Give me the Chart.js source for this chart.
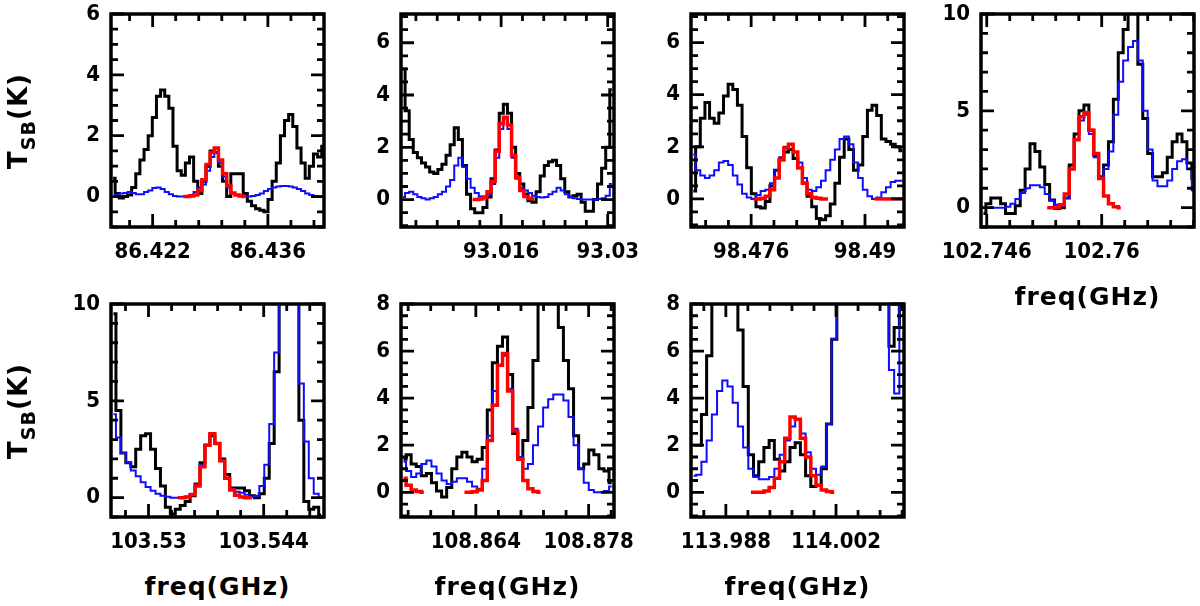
<!DOCTYPE html>
<html>
<head>
<meta charset="utf-8">
<script src="https://cdn.jsdelivr.net/npm/chart.js@4.4.1/dist/chart.umd.min.js"></script>
<style>
  body { margin: 0; background: #fff; }
  #fig { position: relative; width: 1200px; height: 606px; overflow: hidden; background: #fff;
         font-family: "DejaVu Sans", sans-serif; color: #000; }
  #fig canvas { position: absolute; }
  .xt { position: absolute; font-size: 25px; font-weight: bold; letter-spacing: 1px; line-height: 1;
        transform: translate(-50%, -50%); white-space: nowrap; }
  .yt { position: absolute; font-size: 26px; font-weight: bold; letter-spacing: 1px; line-height: 26px;
        transform: translate(-50%, -50%) rotate(-90deg); white-space: nowrap; }
  .yt sub { font-size: 19px; line-height: 0; vertical-align: -8px; }
</style>
</head>
<body>
<div id="fig"></div>
<script>
// ---- data, one block per panel (freq range, channel width, ticks, spectra) ----
// black = observed, blue = model, red = line fit ([first channel, values])

// 86.43 GHz
const p1Range = [86.41694, 86.44282];
const p1Chan = 0.000502;
const p1Ticks = [86.422, 86.436];
const p1TickText = ['86.422', '86.436'];
const p1YRange = [-1, 6];
const p1YTicks = [0, 2, 4, 6];
const p1Obs = [0.6, 0.1, -0.05, 0.0, 0.05, 0.3, 0.75, 1.2, 1.55, 2.0, 2.6, 3.3, 3.5, 3.3, 2.9, 1.65, 0.85, 0.7, 1.1, 1.3,
  0.5, 0.1, 0.5, 1.0, 1.5, 1.45, 1.0, 0.5, 0.0, 0.75, 0.75, 0.75, 0.1, -0.15, -0.3, -0.4, -0.45, -0.5, -0.1, 0.5,
  1.1, 2.0, 2.5, 2.7, 2.3, 1.6, 1.1, 0.6, 1.0, 1.4, 1.3, 1.65];
const p1Model = [0.0, 0.05, 0.1, 0.12, 0.15, 0.12, 0.08, 0.08, 0.15, 0.2, 0.28, 0.3, 0.25, 0.15, 0.08, 0.02, 0.0, 0.0, 0.02, 0.05,
  0.15, 0.3, 0.4, 0.85, 1.3, 1.45, 1.1, 0.65, 0.3, 0.12, 0.05, 0.02, 0.0, 0.0, 0.02, 0.05, 0.1, 0.18, 0.25, 0.3,
  0.33, 0.35, 0.35, 0.33, 0.3, 0.25, 0.18, 0.1, 0.05, 0.02, 0.0, 0.0];
const p1Fit = [[17, [0.0, 0.0, 0.02, 0.05, 0.2, 0.55, 1.05, 1.45, 1.6, 1.2, 0.75, 0.35, 0.12, 0.05, 0.02, 0.0]]];

// 93.02 GHz
const p2Range = [93.00284, 93.03083];
const p2Chan = 0.000538;
const p2Ticks = [93.016, 93.03];
const p2TickText = ['93.016', '93.03'];
const p2YRange = [-1.05, 7.1];
const p2YTicks = [0, 2, 4, 6];
const p2Obs = [5.0, 3.4, 2.3, 1.8, 1.6, 1.4, 1.25, 1.05, 1.0, 1.15, 1.35, 1.7, 2.1, 2.75, 2.3, 1.3, 0.2, -0.35, -0.5, -0.5,
  -0.3, 0.1, 0.8, 1.9, 3.3, 3.65, 3.3, 2.0, 1.0, 0.6, 0.2, -0.05, -0.1, 0.3, 0.9, 1.3, 1.45, 1.5, 1.3, 0.8,
  0.3, 0.1, 0.15, 0.2, -0.1, -0.45, -0.45, 0.0, 0.6, 1.2, 2.0, 4.2];
const p2Model = [0.1, 0.25, 0.3, 0.2, 0.1, 0.05, 0.0, 0.05, 0.1, 0.2, 0.3, 0.5, 0.75, 1.3, 1.6, 1.25, 0.8, 0.45, 0.25, 0.12,
  0.08, 0.2, 0.6, 1.6, 2.7, 3.1, 2.7, 1.6, 0.8, 0.45, 0.35, 0.25, 0.15, 0.1, 0.08, 0.1, 0.2, 0.3, 0.45, 0.35,
  0.2, 0.1, 0.05, 0.02, 0.0, 0.0, 0.0, 0.0, 0.02, 0.05, 0.15, 0.6];
const p2Fit = [[17, [0.0, 0.0, 0.02, 0.1, 0.3, 0.7, 1.85, 2.9, 3.15, 2.85, 1.7, 0.85, 0.35, 0.12, 0.05, 0.02]]];

// 98.48 GHz
const p3Range = [98.4686, 98.4948];
const p3Chan = 0.000571;
const p3Ticks = [98.476, 98.49];
const p3TickText = ['98.476', '98.49'];
const p3YRange = [-1.08, 7.1];
const p3YTicks = [0, 2, 4, 6];
const p3Obs = [0.3, 2.0, 3.1, 3.7, 3.1, 2.9, 3.3, 3.95, 4.4, 4.2, 3.6, 2.4, 1.2, 0.2, -0.3, -0.35, -0.1, 0.5, 1.1, 1.5,
  1.8, 1.9, 1.55, 1.2, 0.6, 0.1, -0.3, -0.75, -0.8, -0.65, -0.2, 0.6, 1.6, 2.3, 1.9, 1.1, 1.3, 2.4, 3.4, 3.6,
  3.2, 2.3, 2.2, 2.1, 2.0, 1.85];
const p3Model = [1.7, 1.1, 0.9, 0.8, 0.9, 1.1, 1.4, 1.45, 1.3, 0.9, 0.55, 0.2, 0.05, 0.0, 0.15, 0.3, 0.35, 0.6, 1.1, 1.6,
  2.0, 2.1, 1.8, 1.4, 0.8, 0.35, 0.3, 0.45, 0.7, 1.1, 1.5, 1.9, 2.3, 2.4, 2.1, 1.4, 0.8, 0.35, 0.1, 0.0,
  0.05, 0.25, 0.45, 0.65, 0.7, 0.7];
const p3Fit = [[13, [0.0, 0.0, 0.02, 0.1, 0.35, 0.8, 1.5, 1.95, 2.1, 1.8, 1.2, 0.6, 0.2, 0.05, 0.02, 0.0, 0.0]],
  [39, [0.0, 0.0, 0.0, 0.0, 0.0, 0.0, 0.0]]];

// 102.76 GHz
const p4Range = [102.7453, 102.77124];
const p4Chan = 0.000597;
const p4Ticks = [102.746, 102.76];
const p4TickText = ['102.746', '102.76'];
const p4YRange = [-1, 10];
const p4YTicks = [0, 5, 10];
const p4Obs = [-0.3, 0.2, 0.5, 0.5, 0.2, -0.3, -0.3, 0.1, 0.9, 2.0, 3.3, 2.9, 2.1, 1.2, 0.4, -0.05, 0.0, 0.5, 2.2, 3.8,
  5.0, 5.3, 4.0, 2.7, 1.6, 2.2, 3.4, 5.6, 8.0, 9.2, 11, 12, 7.4, 4.6, 2.8, 1.6, 1.6, 1.8, 2.6, 3.4,
  3.8, 3.4, 2.3, 1.5];
const p4Model = [0.0, 0.0, 0.0, 0.0, 0.0, 0.05, 0.2, 0.45, 0.75, 1.0, 1.15, 1.15, 1.05, 0.7, 0.35, 0.15, 0.1, 0.5, 2.0, 3.5,
  4.5, 4.8, 3.8, 2.6, 1.5, 2.0, 2.9, 4.8, 6.5, 7.6, 8.3, 8.6, 7.6, 5.0, 3.0, 1.4, 1.1, 1.1, 1.4, 2.0,
  2.4, 2.5, 2.0, 0.9];
const p4Fit = [[13, [0.0, 0.0, 0.02, 0.15, 0.7, 2.0, 3.5, 4.7, 4.9, 4.0, 2.8, 1.5, 0.6, 0.2, 0.05, 0.0]]];

// 103.54 GHz
const p5Range = [103.52544, 103.55133];
const p5Chan = 0.000601;
const p5Ticks = [103.53, 103.544];
const p5TickText = ['103.53', '103.544'];
const p5YRange = [-1, 10];
const p5YTicks = [0, 5, 10];
const p5Obs = [9.5, 4.5, 2.3, 1.8, 1.6, 2.5, 3.2, 3.3, 2.5, 1.5, 0.6, -0.5, -0.85, -0.6, -0.4, -0.2, 0.1, 0.7, 1.8, 2.7,
  3.2, 2.8, 2.0, 1.2, 0.5, 0.5, 0.5, 0.35, 0.1, 0.0, 0.2, 1.0, 2.8, 6.5, 11, 12, 11, 11, 4.0, -0.2,
  -0.6, -0.5, -0.9];
const p5Model = [4.3, 3.1, 2.3, 1.8, 1.4, 1.1, 0.8, 0.55, 0.35, 0.2, 0.1, 0.05, 0.0, 0.0, 0.0, 0.05, 0.2, 0.7, 1.7, 2.7,
  3.3, 2.8, 1.9, 1.0, 0.45, 0.3, 0.25, 0.15, 0.05, 0.1, 0.6, 1.7, 3.8, 7.5, 11, 12, 11, 11, 5.9, 2.9,
  1.0, 0.2, 0.0];
const p5Fit = [[13, [0.0, 0.0, 0.03, 0.15, 0.6, 1.6, 2.7, 3.3, 2.8, 1.9, 1.0, 0.4, 0.12, 0.03, 0.0, 0.0]]];

// 108.87 GHz
const p6Range = [108.85471, 108.88115];
const p6Chan = 0.00063;
const p6Ticks = [108.864, 108.878];
const p6TickText = ['108.864', '108.878'];
const p6YRange = [-1.05, 8];
const p6YTicks = [0, 2, 4, 6, 8];
const p6Obs = [1.4, 1.6, 1.2, 1.1, 0.7, 0.8, 0.4, 0.05, -0.2, 0.2, 1.0, 1.5, 1.7, 1.5, 1.3, 1.4, 1.9, 3.5, 5.5, 6.2,
  6.6, 5.0, 2.5, 1.4, 2.2, 3.6, 5.6, 9, 10, 10, 10, 7.0, 5.6, 4.4, 2.4, 1.0, 1.2, 1.8, 1.6, 1.0,
  0.9, 0.4];
const p6Model = [1.3, 0.9, 0.65, 0.8, 1.2, 1.35, 1.1, 0.8, 0.5, 0.35, 0.45, 0.6, 0.6, 0.45, 0.25, 0.15, 1.0, 2.4, 4.3, 5.4,
  5.8, 4.4, 2.7, 1.5, 1.0, 1.2, 2.0, 2.8, 3.6, 3.95, 4.15, 4.15, 3.9, 3.2, 2.0, 1.0, 0.4, 0.1, 0.0, 0.0,
  0.05, 0.25];
const p6Fit = [[0, [0.6, 0.3, 0.1, 0.03, 0.0]],
  [12, [0.0, 0.0, 0.02, 0.1, 0.5, 2.2, 3.7, 5.4, 5.9, 4.3, 2.6, 1.4, 0.5, 0.15, 0.03, 0.0]]];

// 114.00 GHz
const p7Range = [113.98357, 114.01064];
const p7Chan = 0.000662;
const p7Ticks = [113.988, 114.002];
const p7TickText = ['113.988', '114.002'];
const p7YRange = [-1.05, 8];
const p7YTicks = [0, 2, 4, 6, 8];
const p7Obs = [2.0, 2.0, 3.3, 5.8, 9, 10, 10, 10, 9, 6.9, 4.5, 1.6, 0.7, 1.3, 1.9, 2.2, 1.4, 0.9, 1.3, 1.9,
  2.1, 1.6, 0.7, 0.25, 0.3, 1.0, 2.9, 6.5, 9, 11, 12, 12, 12, 12, 11, 10, 9, 8.5, 6.2, 7.0,
  8.5];
const p7Model = [0.7, 0.75, 1.3, 2.2, 3.3, 4.3, 4.75, 4.5, 3.8, 2.8, 1.9, 1.0, 0.65, 0.55, 0.55, 0.65, 1.0, 1.6, 2.2, 2.8,
  3.1, 2.5, 1.7, 1.0, 0.75, 1.1, 2.9, 6.5, 9, 11, 12, 12, 12, 12, 11, 10, 9, 8.5, 5.2, 4.2,
  9];
const p7Fit = [[11, [0.0, 0.0, 0.0, 0.05, 0.2, 0.6, 1.3, 2.3, 3.2, 3.1, 2.3, 1.5, 0.7, 0.3, 0.1, 0.03, 0.0]]];

// ---- layout ----
const frames = [[111, 14], [401, 14], [691, 14], [981, 14], [111, 304], [401, 304], [691, 304]];
const FW = 213, FH = 213;
const ML = 80, MT = 16, MR = 45, MB = 50, YAXW = 70;
const xMinorStep = 0.0028;
const tickFont = { family: '"DejaVu Sans Condensed", "DejaVu Sans", sans-serif', size: 22, weight: 'bold' };

const panels = [
  { range: p1Range, chan: p1Chan, ticks: p1Ticks, tickText: p1TickText, yr: p1YRange, yt: p1YTicks, ym: 0.5, obs: p1Obs, model: p1Model, fit: p1Fit },
  { range: p2Range, chan: p2Chan, ticks: p2Ticks, tickText: p2TickText, yr: p2YRange, yt: p2YTicks, ym: 0.5, obs: p2Obs, model: p2Model, fit: p2Fit },
  { range: p3Range, chan: p3Chan, ticks: p3Ticks, tickText: p3TickText, yr: p3YRange, yt: p3YTicks, ym: 0.5, obs: p3Obs, model: p3Model, fit: p3Fit },
  { range: p4Range, chan: p4Chan, ticks: p4Ticks, tickText: p4TickText, yr: p4YRange, yt: p4YTicks, ym: 1, obs: p4Obs, model: p4Model, fit: p4Fit },
  { range: p5Range, chan: p5Chan, ticks: p5Ticks, tickText: p5TickText, yr: p5YRange, yt: p5YTicks, ym: 1, obs: p5Obs, model: p5Model, fit: p5Fit },
  { range: p6Range, chan: p6Chan, ticks: p6Ticks, tickText: p6TickText, yr: p6YRange, yt: p6YTicks, ym: 0.5, obs: p6Obs, model: p6Model, fit: p6Fit },
  { range: p7Range, chan: p7Chan, ticks: p7Ticks, tickText: p7TickText, yr: p7YRange, yt: p7YTicks, ym: 0.5, obs: p7Obs, model: p7Model, fit: p7Fit }
];

const fig = document.getElementById('fig');

function stepLine(data, color, width, order){
  return {
    data, borderColor: color, borderWidth: width, stepped: 'middle',
    pointRadius: 0, fill: false, order, borderJoinStyle: 'miter'
  };
}

// frame + inward ticks on all four sides (IDL style)
function framePlugin(xt, yt){
  return {
    id: 'frameTicks',
    afterDatasetsDraw(chart){
      const { ctx, chartArea: a, scales: { x, y } } = chart;
      ctx.save();
      ctx.strokeStyle = '#000';
      ctx.lineWidth = 2.8;
      ctx.beginPath();
      xt.forEach(([v, major]) => {
        const px = x.getPixelForValue(v), len = major ? 13 : 7;
        ctx.moveTo(px, a.bottom); ctx.lineTo(px, a.bottom - len);
        ctx.moveTo(px, a.top); ctx.lineTo(px, a.top + len);
      });
      yt.forEach(([v, major]) => {
        const py = y.getPixelForValue(v), len = major ? 13 : 7;
        ctx.moveTo(a.left, py); ctx.lineTo(a.left + len, py);
        ctx.moveTo(a.right, py); ctx.lineTo(a.right - len, py);
      });
      ctx.stroke();
      ctx.lineWidth = 3.5;
      ctx.strokeRect(a.left, a.top, a.right - a.left, a.bottom - a.top);
      ctx.restore();
    }
  };
}

function makePanel(p, [fx, fy]){
  const cv = document.createElement('canvas');
  const w = ML + FW + MR, h = MT + FH + MB;
  cv.width = w; cv.height = h;
  cv.style.width = w + 'px'; cv.style.height = h + 'px';
  cv.style.left = (fx - ML) + 'px'; cv.style.top = (fy - MT) + 'px';
  fig.appendChild(cv);

  // channel centre frequencies
  const xs = p.obs.map((_, i) => p.range[0] + (i + 0.5) * p.chan);
  const pts = (vals, start) => vals.map((v, k) => ({ x: xs[start + k], y: v }));

  const datasets = [
    stepLine(pts(p.obs, 0), '#000000', 3, 3),
    stepLine(pts(p.model, 0), '#0d0dff', 2, 2),
    ...p.fit.map(([s, vals]) => stepLine(pts(vals, s), '#ff0000', 3.5, 1))
  ];

  // tick positions for the frame
  const xt = [];
  for (let k = -12; k <= 16; k++){
    const v = p.ticks[0] + k * xMinorStep;
    if (v > p.range[0] + 1e-6 && v < p.range[1] - 1e-6)
      xt.push([v, p.ticks.some(t => Math.abs(t - v) < 1e-6)]);
  }
  const yt = [];
  for (let k = Math.ceil(p.yr[0] / p.ym); k * p.ym <= p.yr[1] + 1e-9; k++){
    const v = k * p.ym;
    yt.push([v, p.yt.some(t => Math.abs(t - v) < 1e-9)]);
  }

  new Chart(cv, {
    type: 'line',
    data: { datasets },
    options: {
      responsive: false,
      animation: false,
      events: [],
      layout: { padding: { left: ML - YAXW, top: MT, right: MR, bottom: 0 } },
      plugins: { legend: { display: false }, tooltip: { enabled: false } },
      scales: {
        x: {
          type: 'linear', min: p.range[0], max: p.range[1],
          grid: { display: false, drawTicks: false }, border: { display: false },
          ticks: { padding: 12, color: '#000', font: tickFont, maxRotation: 0, autoSkip: false,
                   callback: (v, i) => p.tickText[i] },
          afterBuildTicks: s => { s.ticks = p.ticks.map(v => ({ value: v })); },
          afterFit: s => { s.height = MB; s.paddingLeft = 0; s.paddingRight = 0; }
        },
        y: {
          type: 'linear', min: p.yr[0], max: p.yr[1],
          grid: { display: false, drawTicks: false }, border: { display: false },
          ticks: { padding: 11, color: '#000', font: tickFont, autoSkip: false,
                   callback: v => String(v) },
          afterBuildTicks: s => { s.ticks = p.yt.map(v => ({ value: v })); },
          afterFit: s => { s.width = YAXW; s.paddingTop = 0; s.paddingBottom = 0; }
        }
      }
    },
    plugins: [framePlugin(xt, yt)]
  });
}

panels.forEach((p, i) => makePanel(p, frames[i]));

// axis titles
[0, 4].forEach(i => {
  const d = document.createElement('div');
  d.className = 'yt';
  d.innerHTML = 'T<sub>SB</sub>(K)';
  d.style.left = '18px';
  d.style.top = (frames[i][1] + FH / 2) + 'px';
  fig.appendChild(d);
});
[3, 4, 5, 6].forEach(i => {
  const d = document.createElement('div');
  d.className = 'xt';
  d.textContent = 'freq(GHz)';
  d.style.left = (frames[i][0] + FW / 2) + 'px';
  d.style.top = (frames[i][1] + FH + 69) + 'px';
  fig.appendChild(d);
});
</script>
</body>
</html>
